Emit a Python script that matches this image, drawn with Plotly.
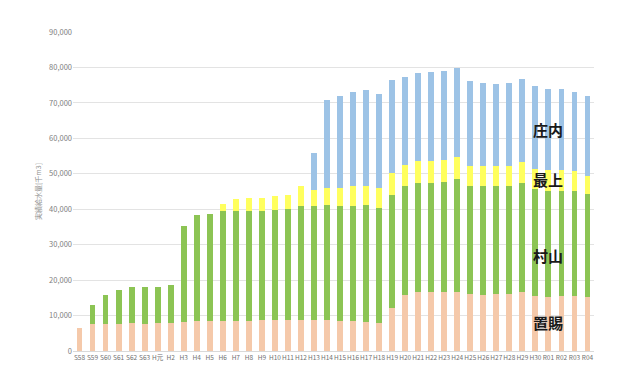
import plotly.graph_objects as go

years = ["S58", "S59", "S60", "S61", "S62", "S63", "H元", "H2", "H3", "H4",
         "H5", "H6", "H7", "H8", "H9", "H10", "H11", "H12", "H13", "H14",
         "H15", "H16", "H17", "H18", "H19", "H20", "H21", "H22", "H23", "H24",
         "H25", "H26", "H27", "H28", "H29", "H30", "R01", "R02", "R03", "R04"]

okitama = [6500, 7650, 7650, 7650, 7900, 7650, 7900, 7900, 8100, 8550,
           8550, 8550, 8550, 8600, 8700, 8700, 8700, 8700, 8800, 8800,
           8400, 8400, 8300, 7900, 12150, 15900, 16550, 16550, 16550, 16550,
           16200, 15900, 16200, 16200, 16550, 15650, 15250, 15400, 15400, 15250]

murayama = [0, 5450, 8250, 9650, 10200, 10350, 10250, 10650, 27100, 29950,
            30200, 30850, 30850, 31000, 30900, 31050, 31400, 32300, 32050, 32400,
            32600, 32600, 32900, 32550, 31950, 30600, 30900, 30900, 31050, 32000,
            30300, 30600, 30450, 30300, 30900, 30100, 29850, 29700, 29700, 29150]

mogami = [0, 0, 0, 0, 0, 0, 0, 0, 0, 0,
          0, 2100, 3500, 3600, 3700, 3900, 3850, 5500, 4700, 4800,
          5000, 5500, 5300, 5550, 6150, 6100, 6250, 6250, 6400, 6300,
          5800, 5800, 5650, 5800, 5800, 5650, 5900, 5900, 5600, 5100]

shonai = [0, 0, 0, 0, 0, 0, 0, 0, 0, 0,
          0, 0, 0, 0, 0, 0, 0, 0, 10350, 24900,
          26050, 26500, 27250, 26600, 26350, 24750, 24750, 25150, 24950, 24950,
          23800, 23350, 23150, 23350, 23550, 23300, 23050, 22950, 22300, 22550]

series = [("置賜", okitama, "#F5C9AA"),
          ("村山", murayama, "#8CC454"),
          ("最上", mogami, "#FFFF5E"),
          ("庄内", shonai, "#9DC3E6")]

label_y = {"庄内": 62500, "最上": 48400, "村山": 27000, "置賜": 8000}

fig = go.Figure()
for name, vals, col in series:
    fig.add_trace(go.Bar(x=years, y=vals, name=name, marker_color=col,
                         marker_line_width=0))

for name, vals, col in series:
    fig.add_annotation(x="R01", y=label_y[name], text="<b>" + name + "</b>",
                       showarrow=False,
                       font=dict(size=15, color="#1A1A1A",
                                 family="Noto Sans CJK JP"))

fig.update_layout(
    width=636, height=392,
    barmode="stack", bargap=0.55,
    showlegend=False,
    paper_bgcolor="white", plot_bgcolor="white",
    margin=dict(l=65, r=50, t=24, b=49, autoexpand=False),
    font=dict(family="Noto Sans CJK JP", color="#808080"),
    xaxis=dict(type="category", tickfont=dict(size=6.5, color="#707070"),
               tickangle=0, showgrid=False, linecolor="#D9D9D9", showline=True,
               ticks="", range=[-0.5, 39.5], automargin=False),
    yaxis=dict(range=[0, 90000], dtick=10000, tickformat=",",
               gridcolor="#E3E3E3", gridwidth=1, zeroline=False,
               tickfont=dict(size=7.5, color="#808080"), automargin=False,
               title=dict(text="実績給水量[千m3]", font=dict(size=7, color="#909090"),
                          standoff=6)),
)

fig.write_html("out.html")
